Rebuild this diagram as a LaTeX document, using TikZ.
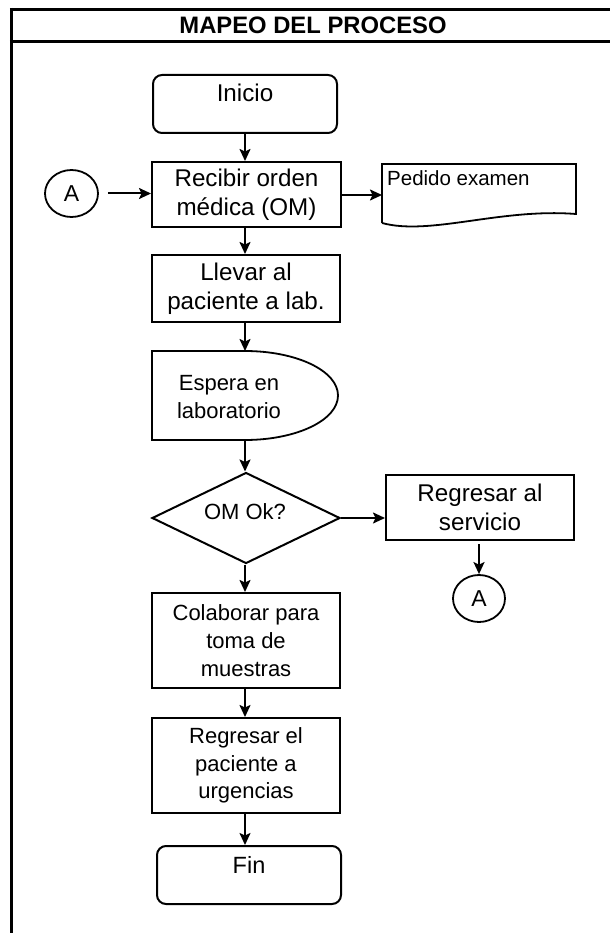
\documentclass[tikz,border=0pt]{standalone}
\usepackage{fontspec}
\setmainfont{Liberation Sans}
\usetikzlibrary{shapes.geometric,arrows.meta}
\tikzset{
  big/.style={font=\fontsize{24.2}{29}\selectfont},
  small/.style={font=\fontsize{22}{27.8}\selectfont},
  txt/.style={align=center, inner sep=0pt},
  procbox/.style={draw, line width=2pt, inner sep=0pt, align=center},
  termbox/.style={draw, line width=2pt, rounded corners=9pt, inner sep=0pt},
  conn/.style={draw, ellipse, line width=1.8pt, inner sep=0pt, font=\fontsize{23}{28}\selectfont},
  flow/.style={line width=2pt, -{Stealth[length=12pt,width=11pt,inset=2.5pt]}},
  frame/.style={line width=3.6pt}
}
\begin{document}
\begin{tikzpicture}[x=1pt,y=-1pt]
\useasboundingbox (0,0) rectangle (610,933);
% frame
\coordinate (tl) at (11.5,7.8);
\coordinate (bl) at (11.5,933);
\coordinate (tr) at (610,9.5);
\draw[frame] (tl) -- (bl);
\draw[frame] (9.8,9.5) -- (tr);
\draw[frame] (9.8,41.5) -- (610,41.5);
\node[font=\bfseries\fontsize{23.8}{28}\selectfont, inner sep=0pt] (titulo) at (313,25.5) {MAPEO DEL PROCESO};

% Inicio
\node[termbox, minimum width=184pt, minimum height=58pt] (inicio) at (245,104) {};
\node[txt, big, anchor=base] (inicioT) at (245,102) {Inicio};

% Recibir
\node[procbox, big, minimum width=189pt, minimum height=65pt] (recibir) at (246.5,194.5) {Recibir orden\\médica (OM)};

% A connector left
\node[conn, minimum width=53pt, minimum height=47pt] (A1) at (71.5,193.5) {A};

% Pedido examen document
\coordinate (docL) at (382,195);
\draw[line width=1.8pt] (382,223) -- (382,164) -- (576,164) -- (576,214)
  .. controls (500,208) and (430,236) .. (382,223);
\node[font=\fontsize{20.5}{24}\selectfont, inner sep=0pt, anchor=base west] (pedido) at (387,186) {Pedido examen};

% Llevar
\node[procbox, big, minimum width=188pt, minimum height=67pt] (llevar) at (246,288.5) {Llevar al\\paciente a lab.};

% Espera (delay)
\coordinate (espN) at (245,351);
\coordinate (espS) at (245,440);
\draw[line width=1.8pt] (152,440) -- (152,351) -- (245,351)
  .. controls (296.3,351) and (338,370.7) .. (338,395.5)
  .. controls (338,420.3) and (296.3,440) .. (245,440) -- cycle;
\node[txt, small] (espera) at (229,397) {Espera en\\laboratorio};

% Decision
\node[draw, diamond, line width=2pt, minimum width=188pt, minimum height=91pt, inner sep=0pt] (dec) at (246,518) {};
\node[txt, small] (decT) at (245,512) {OM Ok?};

% Regresar al servicio
\node[procbox, big, minimum width=188pt, minimum height=65pt] (regserv) at (480,507.5) {Regresar al\\servicio};

% A connector right
\node[conn, minimum width=52pt, minimum height=47pt] (A2) at (479,598.5) {A};

% Colaborar
\node[procbox, small, minimum width=188pt, minimum height=95pt] (colab) at (246,640.5) {Colaborar para\\toma de\\muestras};

% Regresar el paciente
\node[procbox, small, minimum width=188pt, minimum height=95pt] (regpac) at (246,765.5) {Regresar el\\paciente a\\urgencias};

% Fin
\node[termbox, minimum width=184pt, minimum height=58pt] (fin) at (249,875) {};
\node[txt, font=\fontsize{23.5}{28}\selectfont, anchor=base] (finT) at (249,873) {Fin};

% connectors
\draw[flow] (inicio.south) -- (inicio.south |- recibir.north);
\draw[flow, shorten <=9pt] (A1.east) -- (A1.east -| recibir.west);
\draw[flow] (recibir.east |- docL) -- (docL);
\draw[flow] (espS |- recibir.south) -- (espS |- llevar.north);
\draw[flow] (espN |- llevar.south) -- (espN);
\draw[flow] (espS) -- (espS |- dec.north);
\draw[flow] (dec.east) -- (regserv.west |- dec.east);
\draw[flow, shorten <=3pt] (A2.north |- regserv.south) -- (A2.north);
\draw[flow] (espS |- dec.south) -- (espS |- colab.north);
\draw[flow] (espS |- colab.south) -- (espS |- regpac.north);
\draw[flow] (espS |- regpac.south) -- (espS |- fin.north);
\end{tikzpicture}
\end{document}
